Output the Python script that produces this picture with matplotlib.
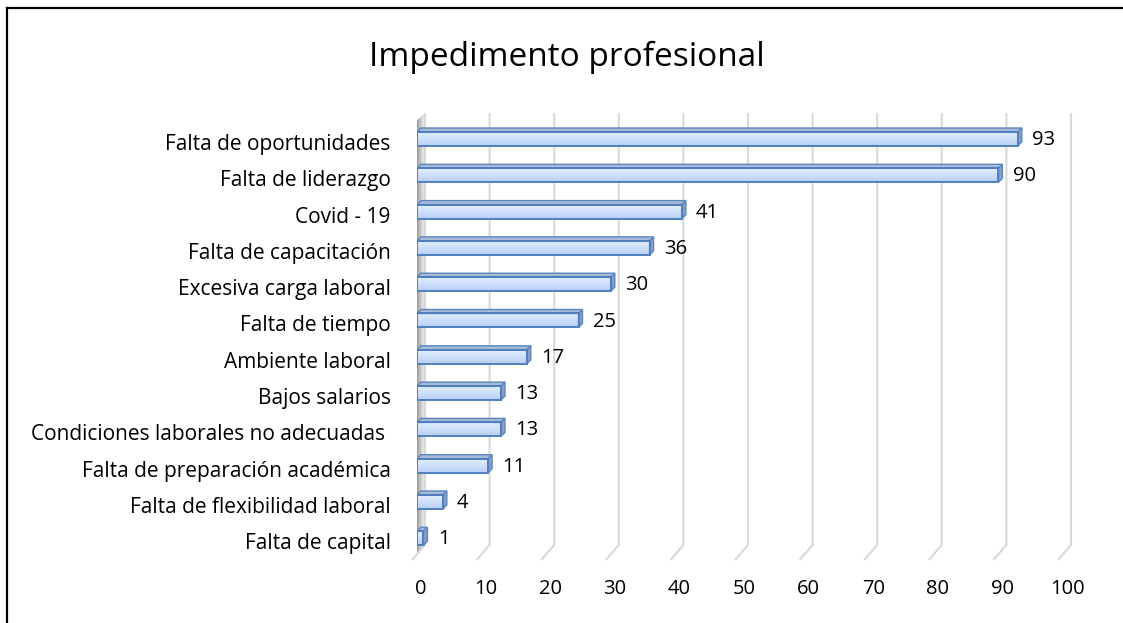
import matplotlib.pyplot as plt
import numpy as np
from matplotlib.patches import Polygon, Rectangle
from matplotlib.lines import Line2D
from matplotlib.colors import LinearSegmentedColormap
import matplotlib.transforms as mtransforms

plt.rcParams['font.family'] = ['Open Sans', 'DejaVu Sans']

categorias = ['Falta de oportunidades', 'Falta de liderazgo', 'Covid - 19',
              'Falta de capacitación', 'Excesiva carga laboral', 'Falta de tiempo',
              'Ambiente laboral', 'Bajos salarios', 'Condiciones laborales no adecuadas ',
              'Falta de preparación académica', 'Falta de flexibilidad laboral',
              'Falta de capital']
valores = [93, 90, 41, 36, 30, 25, 17, 13, 13, 11, 4, 1]
ticks_x = list(range(0, 101, 10))

W, H = 1123, 623
fig = plt.figure(figsize=(W / 100, H / 100), dpi=100)
ax = fig.add_axes([417 / W, 1 - 560 / H, 646 / W, 460 / H])
ax.set_xlim(0, 100)
ax.set_ylim(11.598, -1.074)
for s in ax.spines.values():
    s.set_visible(False)

# profundidad del efecto 3D en unidades de datos
px_x = 6.46   # pixeles por unidad en x
px_y = 36.3   # pixeles por fila
back_dx = 8 / px_x
floor_dx = -13 / px_x
grid_top = (113 - 139) / px_y
grid_bot = (545 - 139) / px_y
floor_front = (560 - 139) / px_y

# pared izquierda sombreada
wall = Polygon([(-0.9, grid_top + 0.35), (back_dx, grid_top), (back_dx, grid_bot),
                (back_dx + floor_dx, floor_front)], closed=True, fc='none', ec='none')
ax.add_patch(wall)
wall_cmap = LinearSegmentedColormap.from_list('wall', ['#ffffff', '#8c8c8c', '#c4c4c4', '#f4f4f4'])
img = ax.imshow(np.linspace(0, 1, 64).reshape(1, -1), cmap=wall_cmap, aspect='auto',
                extent=(-0.9, back_dx, floor_front, grid_top), zorder=1)
img.set_clip_path(wall)

# lineas de cuadricula en la pared del fondo y el piso
for t in ticks_x:
    ax.plot([t + back_dx, t + back_dx, t + back_dx + floor_dx],
            [grid_top, grid_bot, floor_front], color='#d9d9d9', lw=1.5,
            zorder=2, clip_on=False, solid_capstyle='butt')

h = 14 / px_y
ddx = 4 / px_x
ddy = 4 / px_y
bar_cmap = LinearSegmentedColormap.from_list('bar', ['#e6effd', '#cfe0fb', '#b7cff5'])
for i, v in enumerate(valores):
    top = i - h / 2
    bot = i + h / 2
    front = Rectangle((0, top), v, h, fc='none', ec='#4f7fc0', lw=1.4, zorder=5)
    ax.add_patch(front)
    g = ax.imshow(np.linspace(0, 1, 32).reshape(-1, 1), cmap=bar_cmap, aspect='auto',
                  extent=(0, v, bot, top), zorder=4)
    g.set_clip_path(front)
    ax.add_patch(Polygon([(0, top), (v, top), (v + ddx, top - ddy), (ddx, top - ddy)],
                         closed=True, fc='#a7bad6', ec='#5d87c0', lw=1.0, zorder=4))
    ax.add_patch(Polygon([(v, top), (v + ddx, top - ddy), (v + ddx, bot - ddy), (v, bot)],
                         closed=True, fc='#8a9fc0', ec='#5d87c0', lw=1.0, zorder=4))
    ax.text(v + 2.2, i + 0.03, str(v), ha='left', va='center', fontsize=14.5, color='#000000')

ax.set_yticks(range(len(categorias)))
ax.set_yticklabels(categorias, fontsize=15)
ax.set_xticks(ticks_x)
ax.set_xticklabels([str(t) for t in ticks_x], fontsize=14.5)
ax.tick_params(axis='y', length=0, pad=19)
ax.tick_params(axis='x', length=0, pad=14)
dy_lab = mtransforms.ScaledTranslation(0, -3 / 100, fig.dpi_scale_trans)
for lab in ax.get_yticklabels():
    lab.set_transform(lab.get_transform() + dy_lab)
dx_lab = mtransforms.ScaledTranslation(4 / 100, 0, fig.dpi_scale_trans)
for lab in ax.get_xticklabels():
    lab.set_transform(lab.get_transform() + dx_lab)

fig.text(567 / W, 1 - 57 / H, 'Impedimento profesional', ha='center', va='center',
         fontsize=24, color='#000000')

# marco del grafico
fig.add_artist(Line2D([7 / W, 1.0], [1 - 8 / H, 1 - 8 / H], color='black', lw=1.6,
                      transform=fig.transFigure))
fig.add_artist(Line2D([7 / W, 7 / W], [1 - 8 / H, 0], color='black', lw=1.6,
                      transform=fig.transFigure))

fig.savefig('out.png', dpi=100)
